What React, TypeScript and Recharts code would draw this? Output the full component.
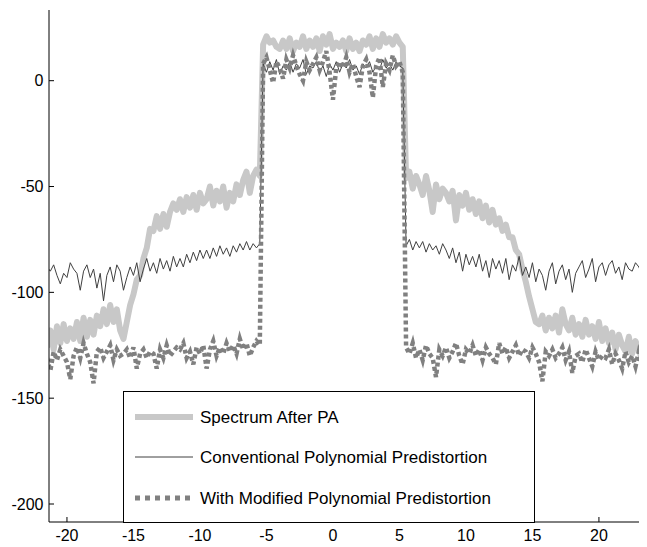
import React from 'react';
import { LineChart, Line, XAxis, YAxis, Legend } from 'recharts';

const FONT = '"Liberation Sans", Arial, Helvetica, sans-serif';

// Frequency offset (MHz)
const freq = [
  -21.5, -21.25, -21, -20.75, -20.5, -20.25, -20, -19.75,
  -19.5, -19.25, -19, -18.75, -18.5, -18.25, -18, -17.75,
  -17.5, -17.25, -17, -16.75, -16.5, -16.25, -16, -15.75,
  -15.5, -15.25, -15, -14.75, -14.5, -14.25, -14, -13.75,
  -13.5, -13.25, -13, -12.75, -12.5, -12.25, -12, -11.75,
  -11.5, -11.25, -11, -10.75, -10.5, -10.25, -10, -9.75,
  -9.5, -9.25, -9, -8.75, -8.5, -8.25, -8, -7.75,
  -7.5, -7.25, -7, -6.75, -6.5, -6.25, -6, -5.75,
  -5.5, -5.25, -5, -4.75, -4.5, -4.25, -4, -3.75,
  -3.5, -3.25, -3, -2.75, -2.5, -2.25, -2, -1.75,
  -1.5, -1.25, -1, -0.75, -0.5, -0.25, 0, 0.25,
  0.5, 0.75, 1, 1.25, 1.5, 1.75, 2, 2.25,
  2.5, 2.75, 3, 3.25, 3.5, 3.75, 4, 4.25,
  4.5, 4.75, 5, 5.25, 5.5, 5.75, 6, 6.25,
  6.5, 6.75, 7, 7.25, 7.5, 7.75, 8, 8.25,
  8.5, 8.75, 9, 9.25, 9.5, 9.75, 10, 10.25,
  10.5, 10.75, 11, 11.25, 11.5, 11.75, 12, 12.25,
  12.5, 12.75, 13, 13.25, 13.5, 13.75, 14, 14.25,
  14.5, 14.75, 15, 15.25, 15.5, 15.75, 16, 16.25,
  16.5, 16.75, 17, 17.25, 17.5, 17.75, 18, 18.25,
  18.5, 18.75, 19, 19.25, 19.5, 19.75, 20, 20.25,
  20.5, 20.75, 21, 21.25, 21.5, 21.75, 22, 22.25,
  22.5, 22.75, 23, 23.25, 23.5, 23.75,
];

// Spectrum After PA
const afterPA = [
  -126, -118, -127, -116, -124, -115, -123, -117,
  -122, -114, -123, -112, -121, -113, -120, -111,
  -116, -108, -115, -106, -114, -108, -118, -122,
  -114, -106, -101, -94, -92, -84, -79, -70,
  -71, -64, -70, -63, -69, -62, -58, -61,
  -56, -62, -55, -60, -54, -61, -53, -58,
  -56, -50, -59, -52, -57, -50, -60, -53,
  -57, -49, -54, -47, -43, -53, -45, -42,
  -45, 17, 21, 18, 19, 16, 15, 19,
  15, 20, 14, 18, 16, 21, 15, 19,
  16, 20, 14, 21, 17, 22, 15, 18,
  16, 19, 14, 20, 15, 18, 14, 19,
  17, 21, 15, 20, 16, 22, 18, 20,
  17, 21, 18, 16, -46, -43, -51, -45,
  -49, -54, -45, -52, -62, -49, -56, -51,
  -53, -57, -52, -66, -54, -59, -53, -61,
  -56, -63, -57, -65, -59, -67, -61, -68,
  -65, -71, -68, -74, -74, -80, -82, -89,
  -95, -102, -108, -114, -115, -111, -118, -112,
  -117, -111, -119, -108, -115, -118, -112, -120,
  -115, -121, -113, -120, -116, -122, -114, -123,
  -117, -124, -119, -127, -120, -125, -128, -121,
  -129, -123, -127, -132, -126, -124,
];

// Conventional Polynomial Predistortion
const conventional = [
  -88, -90, -87, -92, -96, -91, -93, -86,
  -89, -91, -99, -90, -87, -93, -89, -98,
  -91, -104, -92, -88, -95, -87, -90, -99,
  -93, -88, -92, -86, -95, -89, -84, -90,
  -86, -91, -84, -89, -85, -90, -83, -88,
  -84, -88, -82, -86, -81, -85, -80, -84,
  -80, -84, -79, -83, -78, -82, -79, -83,
  -78, -81, -77, -80, -76, -80, -77, -79,
  -77, 8, 4, 9, 5, 10, 3, 7,
  5, 9, 4, 8, 6, 10, 3, 7,
  6, 9, 4, 7, 2, 8, 5, 9,
  4, 8, 6, 10, 5, 7, 3, 8,
  6, 9, 4, 7, 5, 10, 6, 8,
  5, 9, 7, 6, -78, -75, -80, -76,
  -79, -76, -81, -77, -80, -78, -82, -77,
  -80, -84, -79, -86, -81, -90, -82, -87,
  -83, -88, -82, -90, -85, -93, -84, -89,
  -85, -91, -84, -94, -87, -90, -83, -92,
  -88, -93, -86, -95, -89, -92, -99, -90,
  -86, -96, -90, -87, -94, -89, -100, -91,
  -88, -85, -93, -89, -84, -95, -88, -86,
  -92, -87, -85, -91, -88, -94, -86, -89,
  -90, -86, -88, -92, -87, -89,
];

// With Modified Polynomial Predistortion
const modified = [
  -131, -137, -128, -132, -127, -130, -133, -141,
  -130, -126, -131, -124, -129, -133, -143, -128,
  -126, -131, -128, -125, -132, -127, -130, -129,
  -127, -131, -126, -136, -129, -127, -131, -128,
  -129, -136, -127, -131, -125, -130, -128, -126,
  -127, -124, -131, -128, -134, -126, -129, -125,
  -136, -127, -123, -130, -126, -129, -124, -128,
  -125, -129, -122, -127, -124, -130, -126, -123,
  -125, 8, 11, 5, -1, 9, 6, 1,
  10, 6, 12, 7, 3, 0, 9, 5,
  8, 11, 5, 9, 14, 4, -9, 6,
  9, 6, 11, 4, 8, 2, -3, 7,
  10, 4, -8, 7, 11, -3, 8, 5,
  12, 7, 9, 4, -126, -129, -124, -131,
  -127, -132, -125, -129, -131, -140, -127, -130,
  -126, -131, -128, -124, -130, -134, -127, -129,
  -125, -130, -127, -132, -126, -129, -131, -134,
  -124, -129, -126, -131, -128, -125, -130, -127,
  -128, -131, -126, -129, -133, -142, -128, -130,
  -127, -131, -129, -126, -132, -128, -138, -130,
  -129, -133, -127, -131, -135, -128, -132, -130,
  -131, -127, -134, -129, -132, -136, -128, -133,
  -130, -135, -128, -132, -129, -131,
];

const xTicks = [-20, -15, -10, -5, 0, 5, 10, 15, 20];
const yTicks = [-200, -150, -100, -50, 0];

const seriesNames = [
  'Spectrum After PA',
  'Conventional Polynomial Predistortion',
  'With Modified Polynomial Predistortion',
];

const data = freq.map((f, i) => ({
  f,
  pa: afterPA[i],
  conv: conventional[i],
  mod: modified[i],
}));

const BottomTick = (props: any) => {
  const { x, y, payload } = props;
  return (
    <g>
      <line x1={x} y1={y} x2={x} y2={y - 5} stroke="#000" strokeWidth={1} />
      <text x={x} y={y + 19} textAnchor="middle" fontSize={16} fontFamily={FONT} fill="#000">
        {payload.value}
      </text>
    </g>
  );
};

const TopTick = (props: any) => {
  const { x, y } = props;
  return <line x1={x} y1={y} x2={x} y2={y + 5} stroke="#000" strokeWidth={1} />;
};

const LeftTick = (props: any) => {
  const { x, y, payload } = props;
  return (
    <g>
      <line x1={x} y1={y} x2={x + 5} y2={y} stroke="#000" strokeWidth={1} />
      <text x={x - 5.5} y={y + 5.7} textAnchor="end" fontSize={16} fontFamily={FONT} fill="#000">
        {payload.value}
      </text>
    </g>
  );
};

const LegendBox = () => (
  <div
    style={{
      width: 412,
      height: 132,
      border: '1px solid #000',
      background: '#fff',
      boxSizing: 'border-box',
    }}
  >
    <svg width={410} height={130} style={{ display: 'block' }}>
      <line x1={11} y1={25} x2={69} y2={25} stroke="#c8c8c8" strokeWidth={6} />
      <text x={76} y={31} fontSize={17} fontFamily={FONT} fill="#000">{seriesNames[0]}</text>
      <line x1={11} y1={65} x2={69} y2={65} stroke="#404040" strokeWidth={1} />
      <text x={76} y={71} fontSize={17} fontFamily={FONT} fill="#000">{seriesNames[1]}</text>
      <line x1={11} y1={106} x2={69} y2={106} stroke="#808080" strokeWidth={5} strokeDasharray="5 5" />
      <text x={76} y={112} fontSize={17} fontFamily={FONT} fill="#000">{seriesNames[2]}</text>
    </svg>
  </div>
);

export default function App() {
  return (
    <div style={{ width: 639, height: 539, overflow: 'hidden', position: 'relative' }}>
      <LineChart
        width={640}
        height={539}
        data={data}
        margin={{ top: 2, right: 0, bottom: 0, left: 0 }}
      >
        <XAxis
          dataKey="f"
          type="number"
          domain={[-21.35, 23.69]}
          allowDataOverflow
          ticks={xTicks}
          interval={0}
          height={25}
          tickSize={0}
          tickMargin={0}
          tickLine={false}
          axisLine={{ stroke: '#000', strokeWidth: 1 }}
          tick={<BottomTick />}
        />
        <XAxis
          xAxisId="top"
          orientation="top"
          dataKey="f"
          type="number"
          domain={[-21.35, 23.69]}
          allowDataOverflow
          ticks={xTicks}
          interval={0}
          height={0}
          tickSize={0}
          tickMargin={0}
          tickLine={false}
          axisLine={{ stroke: '#000', strokeWidth: 1 }}
          tick={<TopTick />}
        />
        <YAxis
          type="number"
          domain={[-208.5, 33.4]}
          allowDataOverflow
          ticks={yTicks}
          interval={0}
          width={41}
          tickSize={0}
          tickMargin={0}
          tickLine={false}
          axisLine={{ stroke: '#000', strokeWidth: 1 }}
          tick={<LeftTick />}
        />
        <Line
          type="linear"
          dataKey="pa"
          name={seriesNames[0]}
          stroke="#c8c8c8"
          strokeWidth={6}
          strokeLinejoin="round"
          dot={false}
          isAnimationActive={false}
        />
        <Line
          type="linear"
          dataKey="conv"
          name={seriesNames[1]}
          stroke="#404040"
          strokeWidth={1}
          dot={false}
          isAnimationActive={false}
        />
        <Line
          type="linear"
          dataKey="mod"
          name={seriesNames[2]}
          stroke="#808080"
          strokeWidth={4.5}
          strokeDasharray="4 3"
          dot={false}
          isAnimationActive={false}
        />
        <Legend
          layout="horizontal"
          verticalAlign="middle"
          align="center"
          wrapperStyle={{ position: 'absolute', left: 115, top: 383, width: 412, height: 132 }}
          content={() => <LegendBox />}
        />
      </LineChart>
    </div>
  );
}
